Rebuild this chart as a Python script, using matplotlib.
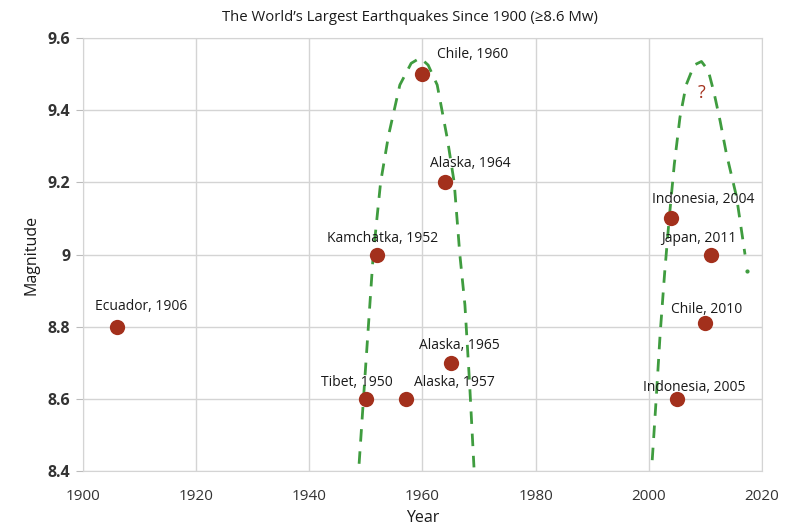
import matplotlib
matplotlib.use("Agg")
import matplotlib.pyplot as plt

plt.rcParams['font.family'] = ['Open Sans', 'DejaVu Sans']

# --- data ---
quake_names = ['Ecuador, 1906', 'Tibet, 1950', 'Kamchatka, 1952', 'Alaska, 1957',
               'Chile, 1960', 'Alaska, 1964', 'Alaska, 1965', 'Indonesia, 2004',
               'Indonesia, 2005', 'Chile, 2010', 'Japan, 2011']
quake_years = [1906, 1950, 1952, 1957, 1960, 1964, 1965, 2004, 2005, 2010, 2011]
quake_mags = [8.8, 8.6, 9.0, 8.6, 9.5, 9.2, 8.7, 9.1, 8.6, 8.81, 9.0]

# dashed "clusters"
arc1_years = [1948.8, 1950.0, 1951.3, 1952.6, 1954.0, 1956.0, 1958.0, 1959.6,
              1961.0, 1962.6, 1964.4, 1965.6, 1966.6, 1967.5, 1968.3, 1969.1]
arc1_mags = [8.42, 8.70, 9.00, 9.20, 9.33, 9.47, 9.53, 9.545,
             9.525, 9.47, 9.32, 9.20, 9.00, 8.86, 8.65, 8.41]
arc2_years = [2000.6, 2001.3, 2002.0, 2002.8, 2003.6, 2004.5, 2005.5, 2006.6,
              2008.0, 2009.3, 2010.5, 2011.5, 2012.6, 2013.7, 2015.5, 2017.0]
arc2_mags = [8.43, 8.60, 8.78, 8.95, 9.10, 9.25, 9.38, 9.47,
             9.525, 9.535, 9.51, 9.45, 9.37, 9.28, 9.16, 9.00]
arc2_end = (2017.3, 8.955)

x_ticks = [1900, 1920, 1940, 1960, 1980, 2000, 2020]
y_ticks = [8.4, 8.6, 8.8, 9.0, 9.2, 9.4, 9.6]
y_tick_labels = ['8.4', '8.6', '8.8', '9', '9.2', '9.4', '9.6']

# label offsets in pixels (left edge of text, centre height) relative to the dot
label_offsets = [(-22, 20), (-45, 16), (-50, 16), (8, 16), (15, 20), (-15, 19),
                 (-32, 17), (-19, 19), (-34, 11), (-34, 14), (-50, 16)]

red = '#a3301c'
green = '#3f9c3f'
grid_c = '#d4d4d4'
txt_c = '#1a1a1a'

fig = plt.figure(figsize=(7.85, 5.31), dpi=100)
ax = fig.add_axes([0.1057, 0.113, 0.8650, 0.8154])

ax.plot(arc1_years, arc1_mags, color=green, lw=2, dashes=(4.5, 3.5), zorder=2)
ax.plot(arc2_years, arc2_mags, color=green, lw=2, dashes=(4.5, 3.5), zorder=2)
ax.plot(*arc2_end, marker='o', ms=2, color=green, zorder=2)

ax.plot(quake_years, quake_mags, 'o', color=red, ms=11, mec='none', zorder=3)

for name, yr, mag, (dx, dy) in zip(quake_names, quake_years, quake_mags, label_offsets):
    ax.annotate(name, (yr, mag), xytext=(dx, dy), textcoords='offset pixels',
                ha='left', va='center', fontsize=10, color=txt_c, zorder=4)

ax.text(2009.3, 9.447, '?', color=red, fontsize=13, ha='center', va='center')

ax.set_xlim(1900, 2020)
ax.set_ylim(8.4, 9.6)
ax.set_xticks(x_ticks)
ax.set_yticks(y_ticks)
ax.set_yticklabels(y_tick_labels)
ax.grid(True, color=grid_c, lw=1)
ax.set_axisbelow(True)
for s in ax.spines.values():
    s.set_color(grid_c)
ax.tick_params(axis='y', length=5, color='#bbbbbb', labelsize=11.5, pad=4,
               labelcolor='#333333')
ax.tick_params(axis='x', length=0, labelsize=11, pad=13, labelcolor='#333333')
for lab in ax.get_yticklabels():
    lab.set_fontweight('bold')

ax.set_xlabel('Year', fontsize=11.5, color=txt_c, labelpad=4)
ax.set_ylabel('Magnitude', fontsize=11.5, color=txt_c, labelpad=6)
fig.text(410 / 785, 0.967, 'The World\u2019s Largest Earthquakes Since 1900 (\u22658.6 Mw)',
         fontsize=10.7, ha='center', va='center', color=txt_c)

fig.savefig('out.png', dpi=100)
